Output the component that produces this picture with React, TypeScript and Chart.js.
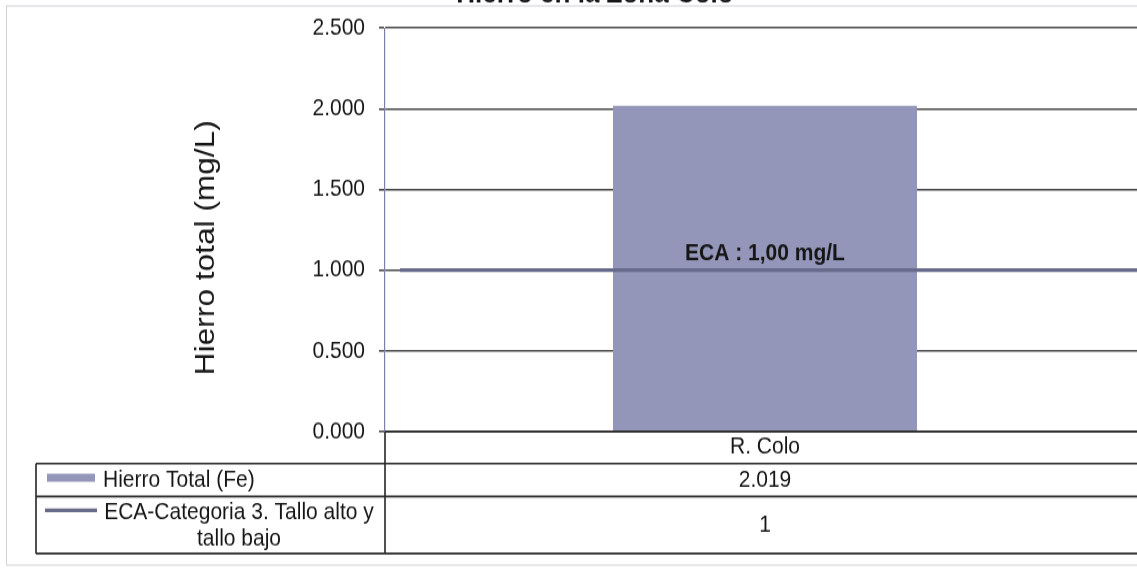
import React, { useEffect, useRef } from "react";
import { Chart, registerables } from "chart.js";

Chart.register(...registerables);

// ---- data ----
const TITLE = "Hierro en la Zona Colo";
const Y_TITLE = "Hierro total (mg/L)";
const categories = ["R. Colo"];
const FE_LABEL = "Hierro Total (Fe)";
const feValues = [2.019];
const ECA_NAME_LINES = ["ECA-Categoria 3. Tallo alto y", "tallo bajo"];
const ecaValues = [1];
const ECA_NOTE = "ECA : 1,00 mg/L";
const Y_MIN = 0;
const Y_MAX = 2.5;
const Y_STEP = 0.5;

// ---- styling / geometry ----
const W = 1220;
const H = 518;
const SY = 1.15; // vertical stretch of the scanned original
const TOP_SHIFT = 24;
const FONT = "'Liberation Sans', Arial, sans-serif";
const BAR_COLOR = "#9396b9";
const ECA_COLOR = "#676a8a";
const LINE_COLOR = "#262626";
const TEXT_COLOR = "#161616";

const CAT_ROW_H = 27.8;
const FE_ROW_H = 28.7;
const ECA_ROW_H = 49.5;
const TABLE_LEFT = 36;

const overlayPlugin = {
  id: "overlayPlugin",
  afterDatasetsDraw(chart: any) {
    const { ctx, chartArea, scales } = chart;
    const y = scales.y;
    const x = scales.x;
    const eca = chart.data.datasets[1].data[0];
    const py = y.getPixelForValue(eca);
    ctx.save();
    ctx.strokeStyle = ECA_COLOR;
    ctx.lineWidth = 3.4;
    ctx.beginPath();
    ctx.moveTo(chartArea.left + 15, py);
    ctx.lineTo(chartArea.right + 20, py);
    ctx.stroke();
    ctx.font = `bold 21px ${FONT}`;
    ctx.fillStyle = TEXT_COLOR;
    ctx.textAlign = "center";
    ctx.textBaseline = "middle";
    ctx.fillText(ECA_NOTE, x.getPixelForValue(0), py - 14);
    ctx.restore();
  },
  afterDraw(chart: any) {
    const { ctx, chartArea, scales } = chart;
    const x = scales.x;
    const right = chartArea.right + 40;
    const top0 = chartArea.bottom;
    const catBottom = top0 + CAT_ROW_H;
    const feBottom = catBottom + FE_ROW_H;
    const ecaBottom = feBottom + ECA_ROW_H;
    const cx = x.getPixelForValue(0);

    ctx.save();
    // outer chart border
    ctx.strokeStyle = "#d2d2da";
    ctx.lineWidth = 1;
    ctx.strokeRect(6.5, 26, W, 512 - 26);

    // table lines
    ctx.strokeStyle = LINE_COLOR;
    ctx.lineWidth = 1.6;
    ctx.beginPath();
    ctx.moveTo(chartArea.left, top0);
    ctx.lineTo(right, top0);
    ctx.moveTo(TABLE_LEFT, catBottom);
    ctx.lineTo(right, catBottom);
    ctx.moveTo(TABLE_LEFT, feBottom);
    ctx.lineTo(right, feBottom);
    ctx.moveTo(TABLE_LEFT, ecaBottom);
    ctx.lineTo(right, ecaBottom);
    ctx.moveTo(TABLE_LEFT, catBottom);
    ctx.lineTo(TABLE_LEFT, ecaBottom);
    ctx.moveTo(chartArea.left, top0);
    ctx.lineTo(chartArea.left, ecaBottom);
    ctx.stroke();

    ctx.fillStyle = TEXT_COLOR;
    ctx.font = `21px ${FONT}`;
    ctx.textBaseline = "middle";

    // Fe row
    const feMid = (catBottom + feBottom) / 2;
    ctx.fillStyle = BAR_COLOR;
    ctx.fillRect(47, feMid - 5.5, 48, 7);
    ctx.fillStyle = TEXT_COLOR;
    ctx.textAlign = "left";
    ctx.fillText(chart.data.datasets[0].label, 103, feMid);
    ctx.textAlign = "center";
    ctx.fillText(Number(chart.data.datasets[0].data[0]).toFixed(3), cx, feMid);

    // ECA row
    ctx.strokeStyle = ECA_COLOR;
    ctx.lineWidth = 3.4;
    ctx.beginPath();
    ctx.moveTo(45, feBottom + 12);
    ctx.lineTo(97, feBottom + 12);
    ctx.stroke();
    ctx.textAlign = "center";
    ctx.fillText(ECA_NAME_LINES[0], 239, feBottom + 13.6);
    ctx.fillText(ECA_NAME_LINES[1], 239, feBottom + 36.5);
    ctx.fillText(String(chart.data.datasets[1].data[0]), cx, (feBottom + ecaBottom) / 2);

    // y axis title
    ctx.translate(206, (chartArea.top + chartArea.bottom) / 2 + 15.6);
    ctx.rotate(-Math.PI / 2);
    ctx.font = `27.5px ${FONT}`;
    ctx.textAlign = "center";
    ctx.textBaseline = "middle";
    ctx.fillText(Y_TITLE, 0, 0);
    ctx.restore();
  },
};

export default function App() {
  const ref = useRef<HTMLCanvasElement | null>(null);

  useEffect(() => {
    document.body.style.margin = "0";
    document.body.style.overflow = "hidden";
    Chart.defaults.font.family = FONT;
    const chart = new Chart(ref.current as HTMLCanvasElement, {
      type: "bar",
      data: {
        labels: categories,
        datasets: [
          {
            type: "bar",
            label: FE_LABEL,
            data: feValues,
            backgroundColor: BAR_COLOR,
            borderWidth: 0,
            barPercentage: 0.4,
            categoryPercentage: 1,
            order: 1,
          },
          {
            type: "line",
            label: ECA_NAME_LINES.join(" "),
            data: ecaValues,
            pointRadius: 0,
            showLine: false,
            borderColor: ECA_COLOR,
            order: 0,
          } as any,
        ],
      },
      options: {
        responsive: false,
        animation: false,
        devicePixelRatio: 1,
        layout: { padding: { left: 45, right: W - 1145, top: 0, bottom: 94.3 } },
        plugins: {
          legend: { display: false },
          tooltip: { enabled: false },
          title: {
            display: true,
            text: TITLE,
            color: TEXT_COLOR,
            font: { size: 26, weight: "bold" },
            padding: { top: 0, bottom: 14 },
          },
        },
        scales: {
          x: {
            type: "category",
            offset: true,
            grid: { display: false, drawTicks: false },
            border: { display: false },
            ticks: { font: { size: 21 }, color: TEXT_COLOR, padding: 1, autoSkip: false, maxRotation: 0 },
            afterFit: (s: any) => {
              s.height = CAT_ROW_H;
            },
          },
          y: {
            min: Y_MIN,
            max: Y_MAX,
            ticks: {
              stepSize: Y_STEP,
              callback: (v: any) => Number(v).toFixed(3),
              font: { size: 21 },
              color: TEXT_COLOR,
              padding: 14,
            },
            grid: { color: "#474747", lineWidth: 1.6, tickLength: 6, tickColor: "#474747", drawTicks: true },
            border: { display: true, color: "#7c81aa", width: 1.2 },
            afterFit: (s: any) => {
              s.width = 340;
            },
          },
        },
      },
      plugins: [overlayPlugin],
    } as any);
    return () => chart.destroy();
  }, []);

  return (
    <div
      style={{
        position: "fixed",
        left: 0,
        top: 0,
        width: 1137,
        height: 571,
        overflow: "hidden",
        background: "#fff",
      }}
    >
      <canvas
        ref={ref}
        width={W}
        height={H}
        style={{
          position: "absolute",
          left: 0,
          top: -TOP_SHIFT,
          width: W + "px",
          height: H * SY + "px",
        }}
      />
    </div>
  );
}
